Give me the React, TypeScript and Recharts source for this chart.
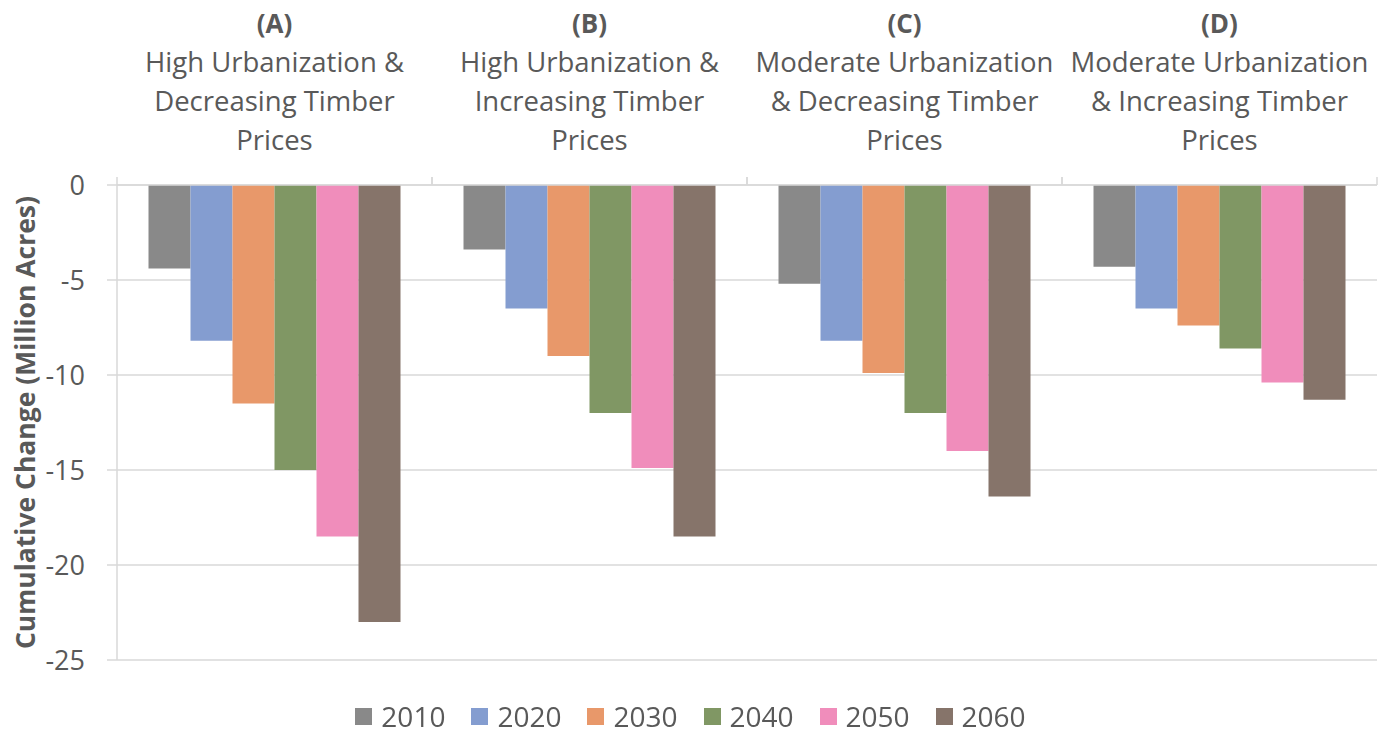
import React from 'react';
import { BarChart, Bar, XAxis, YAxis, CartesianGrid, Legend } from 'recharts';

const categories = ['A', 'B', 'C', 'D'];
const categoryLines: string[][] = [
  ['(A)', 'High Urbanization &', 'Decreasing Timber', 'Prices'],
  ['(B)', 'High Urbanization &', 'Increasing Timber', 'Prices'],
  ['(C)', 'Moderate Urbanization', '& Decreasing Timber', 'Prices'],
  ['(D)', 'Moderate Urbanization', '& Increasing Timber', 'Prices'],
];

const years = ['2010', '2020', '2030', '2040', '2050', '2060'];
const y2010 = [-4.4, -3.4, -5.2, -4.3];
const y2020 = [-8.2, -6.5, -8.2, -6.5];
const y2030 = [-11.5, -9.0, -9.9, -7.4];
const y2040 = [-15.0, -12.0, -12.0, -8.6];
const y2050 = [-18.5, -14.9, -14.0, -10.4];
const y2060 = [-23.0, -18.5, -16.4, -11.3];
const yTicks = [0, -5, -10, -15, -20, -25];

const colors = ['#898989', '#849DD0', '#E8986A', '#809764', '#F08DBB', '#86746A'];
const seriesValues = [y2010, y2020, y2030, y2040, y2050, y2060];

const data = categories.map((c, i) => {
  const row: Record<string, string | number> = { name: c };
  years.forEach((yr, k) => {
    row[yr] = seriesValues[k][i];
  });
  return row;
});

const FONT = '"Open Sans", sans-serif';
const TEXT = '#595959';
const GRID = '#D9D9D9';

function CategoryTick(props: any) {
  const { x, y, payload, index } = props;
  const lines = categoryLines[index] || [];
  const half = payload && payload.offset ? payload.offset : 0;
  return (
    <g>
      {lines.map((ln, i) => (
        <text
          key={i}
          x={x}
          y={33 + i * 39}
          textAnchor="middle"
          fill={TEXT}
          fontFamily={FONT}
          fontSize={i === 0 ? 26 : 27.5}
          fontWeight={i === 0 ? 700 : 400}
        >
          {ln}
        </text>
      ))}
      {half > 0 && (
        <>
          <line x1={x - half} x2={x - half} y1={y} y2={y + 8} stroke={GRID} strokeWidth={1.5} />
          <line x1={x + half} x2={x + half} y1={y} y2={y + 8} stroke={GRID} strokeWidth={1.5} />
        </>
      )}
    </g>
  );
}

function LegendContent() {
  return (
    <div style={{ display: 'flex', justifyContent: 'center', alignItems: 'center', paddingTop: 40, paddingLeft: 4 }}>
      {years.map((yr, k) => (
        <div key={yr} style={{ display: 'flex', alignItems: 'center', marginRight: k < years.length - 1 ? 26 : 0 }}>
          <span style={{ display: 'inline-block', width: 17, height: 17, background: colors[k], marginRight: 9 }} />
          <span style={{ fontFamily: FONT, fontSize: 28, color: TEXT, lineHeight: '32px' }}>{yr}</span>
        </div>
      ))}
    </div>
  );
}

function YLabel(props: any) {
  const vb = props.viewBox || {};
  const cx = 25;
  const cy = (vb.y || 0) + (vb.height || 0) / 2;
  return (
    <text
      x={cx}
      y={cy}
      transform={`rotate(-90, ${cx}, ${cy})`}
      textAnchor="middle"
      dominantBaseline="central"
      fill={TEXT}
      fontFamily={FONT}
      fontSize={26.5}
      fontWeight={700}
    >
      Cumulative Change (Million Acres)
    </text>
  );
}

export default function App() {
  return (
    <div style={{ position: 'fixed', left: 0, top: 0, width: 1392, height: 734, background: '#fff' }}>
      <BarChart
        width={1392}
        height={734}
        data={data}
        margin={{ top: 0, right: 15, left: 0, bottom: 0 }}
        barCategoryGap="10%"
        barGap={0}
      >
        <CartesianGrid vertical={false} stroke={GRID} strokeWidth={1.5} />
        <XAxis
          dataKey="name"
          orientation="top"
          height={185}
          axisLine={{ stroke: GRID, strokeWidth: 1.5 }}
          tickLine={false}
          tick={<CategoryTick />}
          interval={0}
        />
        <YAxis
          width={117}
          domain={[-25, 0]}
          ticks={yTicks}
          interval={0}
          axisLine={{ stroke: GRID, strokeWidth: 1.5 }}
          tickLine={{ stroke: GRID, strokeWidth: 1.5 }}
          tickSize={10}
          tickMargin={22}
          tick={{ fill: TEXT, fontFamily: FONT, fontSize: 27 }}
          label={<YLabel />}
        />
        <Legend verticalAlign="bottom" height={74} content={<LegendContent />} />
        {years.map((yr, k) => (
          <Bar key={yr} dataKey={yr} fill={colors[k]} isAnimationActive={false} />
        ))}
      </BarChart>
    </div>
  );
}
